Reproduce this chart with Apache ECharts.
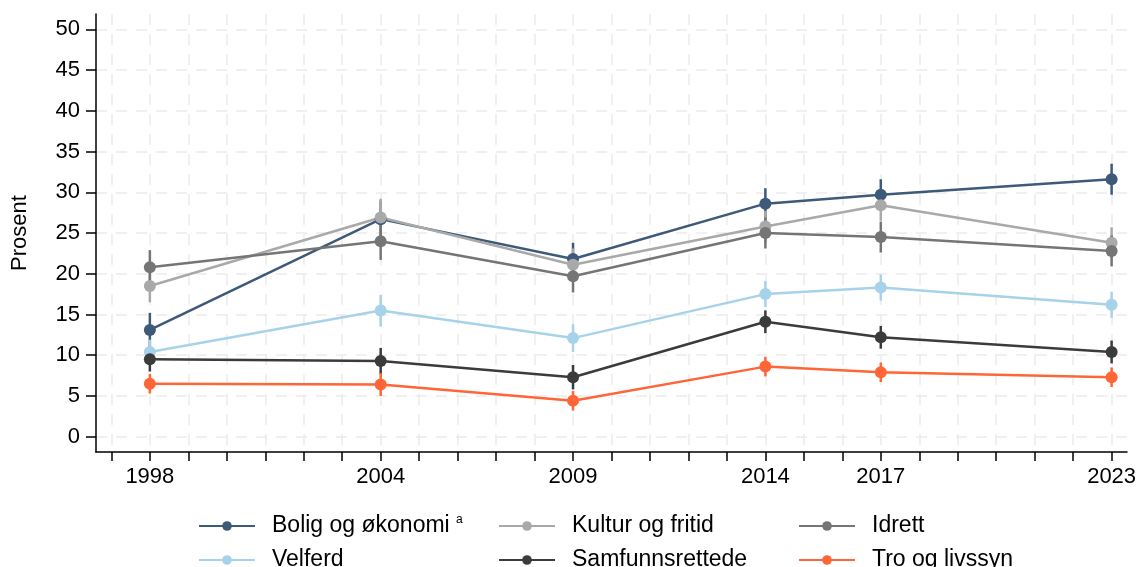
<!DOCTYPE html>
<html>
<head>
<meta charset="utf-8">
<script src="https://cdn.jsdelivr.net/npm/echarts@6/dist/echarts.min.js"></script>
<style>
html,body{margin:0;padding:0;background:#fff;}
#chart{width:1143px;height:567px;}
</style>
</head>
<body>
<div id="chart"></div>
<script>
const years = [1998, 2004, 2009, 2014, 2017, 2023];
const yearTicks = [];
for (let y = 1997; y <= 2023; y++) yearTicks.push(y);
const yearLabels = [1998, 2004, 2009, 2014, 2017, 2023];
const pctTicks = [0, 5, 10, 15, 20, 25, 30, 35, 40, 45, 50];

const names = ['Bolig og økonomi', 'Kultur og fritid', 'Idrett', 'Velferd', 'Samfunnsrettede', 'Tro og livssyn'];
const colors = ['#3d5a78', '#a9a9a9', '#757575', '#a6d2ea', '#3b3b3b', '#ff6536'];

// point estimates
const bolig   = [13.1, 26.7, 21.8, 28.6, 29.7, 31.6];
const kultur  = [18.5, 26.9, 21.1, 25.8, 28.4, 23.8];
const idrett  = [20.8, 24.0, 19.7, 25.0, 24.5, 22.8];
const velferd = [10.4, 15.5, 12.1, 17.5, 18.3, 16.2];
const samfunn = [9.5, 9.3, 7.3, 14.1, 12.2, 10.4];
const tro     = [6.5, 6.4, 4.4, 8.6, 7.9, 7.3];

// confidence intervals (lower / upper)
const boligLo   = [11.0, 24.4, 19.8, 26.7, 27.9, 29.7];
const boligHi   = [15.2, 29.0, 23.8, 30.5, 31.6, 33.5];
const kulturLo  = [16.5, 24.6, 19.1, 23.9, 26.5, 21.9];
const kulturHi  = [20.5, 29.2, 23.1, 27.7, 30.3, 25.7];
const idrettLo  = [18.7, 21.7, 17.7, 23.1, 22.6, 20.9];
const idrettHi  = [22.9, 26.3, 21.7, 26.9, 26.4, 24.7];
const velferdLo = [8.9, 13.5, 10.4, 15.9, 16.7, 14.6];
const velferdHi = [11.9, 17.4, 13.8, 19.1, 19.9, 17.8];
const samfunnLo = [8.0, 7.7, 5.8, 12.7, 10.8, 9.0];
const samfunnHi = [11.0, 10.9, 8.8, 15.5, 13.6, 11.8];
const troLo     = [5.3, 5.0, 3.2, 7.4, 6.7, 6.1];
const troHi     = [7.7, 7.8, 5.6, 9.8, 9.1, 8.5];

const values = [bolig, kultur, idrett, velferd, samfunn, tro];
const lows = [boligLo, kulturLo, idrettLo, velferdLo, samfunnLo, troLo];
const highs = [boligHi, kulturHi, idrettHi, velferdHi, samfunnHi, troHi];

const font = '"Liberation Sans", Arial, Helvetica, sans-serif';
const gridLine = { show: true, lineStyle: { color: '#ebebeb', width: 1.5, type: [11, 9] } };

let series = [];
names.forEach((n, i) => {
    series.push({
        type: 'custom',
        silent: true,
        z: 1,
        data: years.map((y, k) => [y, lows[i][k], highs[i][k]]),
        encode: { x: 0, y: [1, 2] },
        renderItem: function (params, api) {
            const p1 = api.coord([api.value(0), api.value(1)]);
            const p2 = api.coord([api.value(0), api.value(2)]);
            return {
                type: 'line',
                shape: { x1: p1[0], y1: p1[1], x2: p2[0], y2: p2[1] },
                style: { stroke: colors[i], lineWidth: 2.5 }
            };
        }
    });
});
names.forEach((n, i) => {
    series.push({
        name: n,
        type: 'line',
        z: 2,
        data: years.map((y, k) => [y, values[i][k]]),
        symbol: 'circle',
        symbolSize: 12,
        itemStyle: { color: colors[i] },
        lineStyle: { color: colors[i], width: 2.5 }
    });
});

const chart = echarts.init(document.getElementById('chart'));
chart.setOption({
    animation: false,
    color: colors,
    grid: { left: 96, right: 16, top: 14, bottom: 115 },
    xAxis: {
        type: 'value',
        min: 1996.6,
        max: 2023.4,
        axisLine: { onZero: false, lineStyle: { color: '#000', width: 1.5 } },
        axisTick: { show: true, length: 9, customValues: yearTicks, lineStyle: { color: '#000', width: 1.5 } },
        axisLabel: {
            customValues: yearLabels, color: '#000', fontSize: 22, fontFamily: font, margin: 14,
            formatter: function (v) { return String(v); }
        },
        splitLine: gridLine
    },
    yAxis: {
        type: 'value',
        min: -1.88,
        max: 51.88,
        name: 'Prosent',
        nameLocation: 'middle',
        nameGap: 65,
        nameTextStyle: { color: '#000', fontSize: 22, fontFamily: font },
        axisLine: { show: true, onZero: false, lineStyle: { color: '#000', width: 1.5 } },
        axisTick: { show: true, length: 10, customValues: pctTicks, lineStyle: { color: '#000', width: 1.5 } },
        axisLabel: { customValues: pctTicks, color: '#000', fontSize: 22, fontFamily: font, margin: 16 },
        splitLine: gridLine
    },
    legend: {
        data: names,
        left: 198,
        top: 514,
        padding: 0,
        width: 910,
        itemWidth: 56,
        itemHeight: 12,
        itemGap: 10,
        formatter: function (n) {
            return n === 'Bolig og økonomi' ? n + ' {sup|a}' : n;
        },
        textStyle: {
            color: '#000',
            fontSize: 23,
            fontFamily: font,
            width: 216,
            lineHeight: 24,
            padding: [0, 0, 0, 12],
            rich: { sup: { fontSize: 12, verticalAlign: 'top', lineHeight: 24, padding: [0, 0, 10, 0], fontFamily: font, color: '#000' } }
        }
    },
    series: series
});
</script>
</body>
</html>
